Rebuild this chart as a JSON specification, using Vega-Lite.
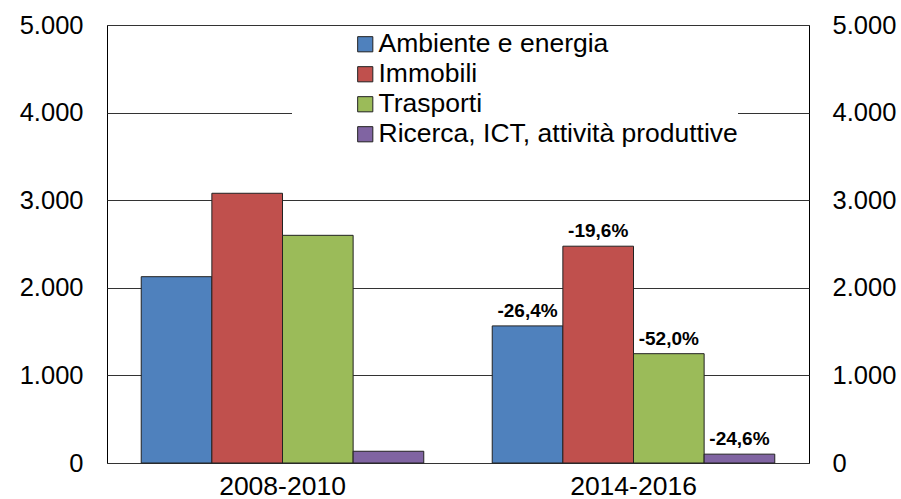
{
  "$schema": "https://vega.github.io/schema/vega-lite/v6.json",
  "width": 702,
  "height": 438,
  "autosize": "none",
  "padding": {"left": 107, "top": 25, "right": 92, "bottom": 36},
  "background": "white",
  "config": {
    "font": "Liberation Sans",
    "view": {"stroke": "#000000", "strokeWidth": 1}
  },
  "data": {
    "values": [
      {"period": "2008-2010", "category": "Ambiente e energia", "value": 2127, "label": ""},
      {"period": "2008-2010", "category": "Immobili", "value": 3079, "label": ""},
      {"period": "2008-2010", "category": "Trasporti", "value": 2599, "label": ""},
      {"period": "2008-2010", "category": "Ricerca, ICT, attività produttive", "value": 134, "label": ""},
      {"period": "2014-2016", "category": "Ambiente e energia", "value": 1565, "label": "-26,4%"},
      {"period": "2014-2016", "category": "Immobili", "value": 2475, "label": "-19,6%"},
      {"period": "2014-2016", "category": "Trasporti", "value": 1248, "label": "-52,0%"},
      {"period": "2014-2016", "category": "Ricerca, ICT, attività produttive", "value": 101, "label": "-24,6%"}
    ]
  },
  "encoding": {
    "x": {
      "field": "period", "type": "nominal",
      "scale": {"paddingInner": 0.195, "paddingOuter": 0.0975},
      "axis": {"title": null, "labelAngle": 0, "labelFontSize": 26.5, "labelColor": "#000000", "labelPadding": 10, "ticks": false, "tickSize": 0, "domain": false}
    },
    "xOffset": {
      "field": "category", "type": "nominal",
      "sort": ["Ambiente e energia", "Immobili", "Trasporti", "Ricerca, ICT, attività produttive"],
      "scale": {"paddingInner": 0, "paddingOuter": 0}
    }
  },
  "layer": [
    {
      "mark": {"type": "bar", "stroke": "#222222", "strokeWidth": 1},
      "encoding": {
        "y": {
          "field": "value", "type": "quantitative",
          "scale": {"domain": [0, 5000], "nice": false},
          "axis": {"title": null, "orient": "left", "values": [0, 1000, 2000, 3000, 4000, 5000], "labelExpr": "replace(format(datum.value, ','), ',', '.')", "labelFontSize": 25.5, "labelColor": "#000000", "labelPadding": 24, "ticks": false, "tickSize": 0, "domain": false, "grid": true, "gridColor": "#333333", "gridWidth": 1, "gridOpacity": 1}
        },
        "color": {
          "field": "category", "type": "nominal",
          "sort": ["Ambiente e energia", "Immobili", "Trasporti", "Ricerca, ICT, attività produttive"],
          "scale": {"domain": ["Ambiente e energia", "Immobili", "Trasporti", "Ricerca, ICT, attività produttive"], "range": ["#4F81BD", "#C0504D", "#9BBB59", "#8064A2"]},
          "legend": {
            "title": null, "orient": "none", "legendX": 185, "legendY": 6,
            "fillColor": "white", "padding": 0,
            "symbolType": "square", "symbolSize": 230, "symbolStrokeColor": "#222222", "symbolStrokeWidth": 1,
            "symbolOffset": 60, "labelOffset": 0,
            "labelFontSize": 26.5, "labelColor": "#000000", "labelLimit": 600, "rowPadding": 3
          }
        }
      }
    },
    {
      "mark": {"type": "text", "baseline": "bottom", "align": "center", "dy": -5, "fontSize": 19, "fontWeight": "bold", "color": "#000000"},
      "encoding": {
        "y": {
          "field": "value", "type": "quantitative",
          "scale": {"domain": [0, 5000], "nice": false},
          "axis": {"title": null, "orient": "right", "values": [0, 1000, 2000, 3000, 4000, 5000], "labelExpr": "replace(format(datum.value, ','), ',', '.')", "labelFontSize": 25.5, "labelColor": "#000000", "labelPadding": 23, "ticks": false, "tickSize": 0, "domain": false, "grid": false}
        },
        "text": {"field": "label"}
      }
    }
  ],
  "resolve": {"scale": {"y": "independent"}}
}
